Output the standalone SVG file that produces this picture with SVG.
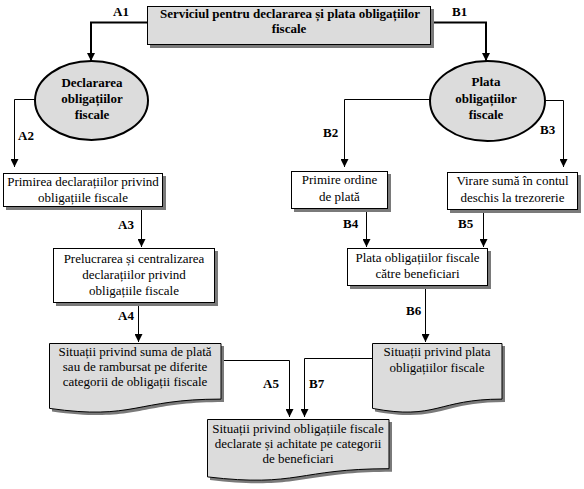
<svg xmlns="http://www.w3.org/2000/svg" width="584" height="489" viewBox="0 0 584 489">
<style>
.box{fill:#fff;stroke:#000;stroke-width:1}
.gray{fill:#dcdcdc;stroke:#000;stroke-width:1}
.ell{fill:#dcdcdc;stroke:#000;stroke-width:2}
.shadow{fill:#7a7a7a;stroke:none}
.t{font-family:"Liberation Serif","Times New Roman",serif;font-size:13px;text-anchor:middle;fill:#000}
.tb{font-family:"Liberation Serif","Times New Roman",serif;font-size:13px;font-weight:bold;text-anchor:middle;fill:#000}
.lbl{font-family:"Liberation Serif","Times New Roman",serif;font-size:13px;font-weight:bold;fill:#000}
.conn{fill:none;stroke:#000;stroke-width:1}
.thick{stroke-width:2}
</style>
<defs>
<marker id="ah" markerUnits="userSpaceOnUse" markerWidth="8" markerHeight="8" viewBox="0 0 8 8" refX="8" refY="4" orient="auto"><path d="M0,0 L8,4 L0,8 Z" fill="#000"/></marker>
</defs>

<g id="connectors">
<polyline class="conn thick" points="147,22.5 91,22.5 91,61" marker-end="url(#ah)"/>
<polyline class="conn thick" points="431,22.5 486,22.5 486,61" marker-end="url(#ah)"/>
<polyline class="conn" points="35,99.5 14.5,99.5 14.5,167" marker-end="url(#ah)"/>
<polyline class="conn" points="430,99.5 344.5,99.5 344.5,167" marker-end="url(#ah)"/>
<polyline class="conn" points="546,100.5 563.5,100.5 563.5,167" marker-end="url(#ah)"/>
<polyline class="conn" points="141.5,207 141.5,247" marker-end="url(#ah)"/>
<polyline class="conn" points="138.5,303 138.5,342" marker-end="url(#ah)"/>
<polyline class="conn" points="366.5,209 366.5,247" marker-end="url(#ah)"/>
<polyline class="conn" points="483.5,210 483.5,247" marker-end="url(#ah)"/>
<polyline class="conn" points="425.5,286 425.5,342" marker-end="url(#ah)"/>
<polyline class="conn" points="221,360.5 289.5,360.5 289.5,417" marker-end="url(#ah)"/>
<polyline class="conn" points="372,358.5 304.5,358.5 304.5,417" marker-end="url(#ah)"/>
<text class="lbl" x="113" y="16">A1</text>
<text class="lbl" x="452" y="16">B1</text>
<text class="lbl" x="18" y="140">A2</text>
<text class="lbl" x="323" y="137">B2</text>
<text class="lbl" x="540" y="134">B3</text>
<text class="lbl" x="118" y="229">A3</text>
<text class="lbl" x="343" y="228">B4</text>
<text class="lbl" x="458" y="228">B5</text>
<text class="lbl" x="118" y="320">A4</text>
<text class="lbl" x="406" y="315">B6</text>
<text class="lbl" x="263" y="388">A5</text>
<text class="lbl" x="309" y="388">B7</text>
</g>

<g id="top">
<rect class="shadow" x="150" y="9" width="284" height="39"/>
<rect class="gray" x="147.5" y="6.5" width="283" height="38" stroke-width="1.5"/>
<text class="tb" x="290" y="18">Serviciul pentru declararea și plata obligațiilor</text>
<text class="tb" x="289" y="33">fiscale</text>
</g>

<g id="declararea">
<ellipse class="ell" cx="91.5" cy="100.5" rx="56.5" ry="39.5"/>
<text class="tb" x="92" y="87">Declararea</text>
<text class="tb" x="92" y="103">obligațiilor</text>
<text class="tb" x="92" y="119">fiscale</text>
</g>

<g id="plata">
<ellipse class="ell" cx="487.5" cy="101" rx="57.5" ry="40"/>
<text class="tb" x="486" y="86">Plata</text>
<text class="tb" x="486" y="103">obligațiilor</text>
<text class="tb" x="486" y="119">fiscale</text>
</g>

<g id="primirea">
<rect class="shadow" x="6" y="176" width="160" height="34"/>
<rect class="box" x="3.5" y="173.5" width="159" height="33"/>
<text class="t" x="83" y="186">Primirea declarațiilor privind</text>
<text class="t" x="83" y="202">obligațiile fiscale</text>
</g>

<g id="prelucrarea">
<rect class="shadow" x="56" y="251" width="162" height="55"/>
<rect class="box" x="53.5" y="248.5" width="161" height="54"/>
<text class="t" x="134" y="263">Prelucrarea și centralizarea</text>
<text class="t" x="134" y="279">declarațiilor privind</text>
<text class="t" x="134" y="295">obligațiile fiscale</text>
</g>

<g id="primire-ordine">
<rect class="shadow" x="294" y="174" width="97" height="38"/>
<rect class="box" x="291.5" y="171.5" width="96" height="37"/>
<text class="t" x="339.5" y="184">Primire ordine</text>
<text class="t" x="339.5" y="201">de plată</text>
</g>

<g id="virare">
<rect class="shadow" x="450" y="175" width="131" height="38"/>
<rect class="box" x="447.5" y="172.5" width="130" height="37"/>
<text class="t" x="512.5" y="185">Virare sumă în contul</text>
<text class="t" x="512.5" y="202">deschis la trezorerie</text>
</g>

<g id="plata-beneficiari">
<rect class="shadow" x="350" y="251" width="141" height="38"/>
<rect class="box" x="347.5" y="248.5" width="140" height="37"/>
<text class="t" x="417.5" y="262">Plata obligațiilor fiscale</text>
<text class="t" x="417.5" y="278">către beneficiari</text>
</g>

<g id="situatii-suma">
<path class="shadow" d="M52,346 H224 V402.1 C138,402.1 138,423.5 52,411.4 Z"/>
<path class="gray" d="M49.5,343.5 H221 V399.1 C135,399.1 135,420.5 49.5,408.4 Z"/>
<text class="t" x="135" y="356">Situații privind suma de plată</text>
<text class="t" x="135" y="371">sau de rambursat pe diferite</text>
<text class="t" x="135" y="386">categorii de obligații fiscale</text>
</g>

<g id="situatii-plata">
<path class="shadow" d="M375,346 H505 V402.1 C440,402.1 440,423.5 375,411.4 Z"/>
<path class="gray" d="M372.5,343.5 H502 V399.1 C437,399.1 437,420.5 372.5,408.4 Z"/>
<text class="t" x="437" y="356">Situații privind plata</text>
<text class="t" x="437" y="372">obligațiilor fiscale</text>
</g>

<g id="situatii-final">
<path class="shadow" d="M210,422 H392 V471.7 C301,471.7 301,490.6 210,479.9 Z"/>
<path class="gray" d="M207.5,419.5 H389 V468.7 C298,468.7 298,487.6 207.5,476.9 Z"/>
<text class="t" x="298" y="433">Situații privind obligațiile fiscale</text>
<text class="t" x="298" y="448">declarate și achitate pe categorii</text>
<text class="t" x="298" y="463">de beneficiari</text>
</g>
</svg>
